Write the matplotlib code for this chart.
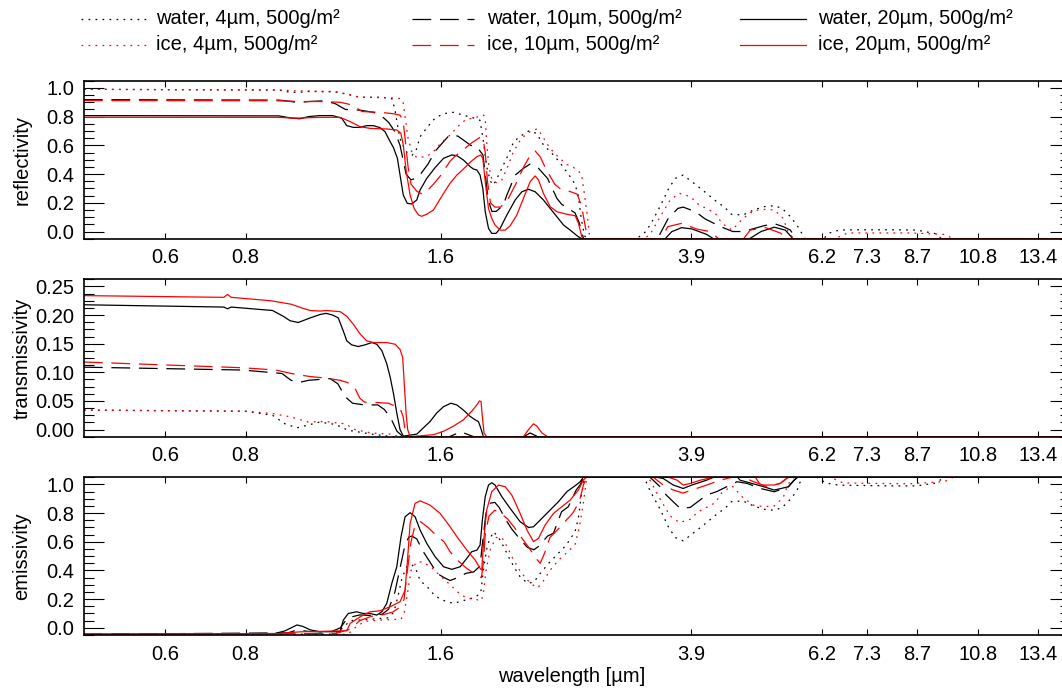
import matplotlib
matplotlib.use("Agg")
import matplotlib.pyplot as plt
from matplotlib.lines import Line2D
from matplotlib.ticker import FixedLocator, NullLocator, MultipleLocator, FormatStrFormatter

plt.rcParams['font.family'] = ['Liberation Sans', 'DejaVu Sans']

# ---------------- data ----------------
xticks = [0.6, 0.8, 1.6, 3.9, 6.2, 7.3, 8.7, 10.8, 13.4]
xtick_labels = ['0.6', '0.8', '1.6', '3.9', '6.2', '7.3', '8.7', '10.8', '13.4']

legend_labels = ['water, 4µm, 500g/m²', 'water, 10µm, 500g/m²', 'water, 20µm, 500g/m²',
                 'ice, 4µm, 500g/m²', 'ice, 10µm, 500g/m²', 'ice, 20µm, 500g/m²']

# ---- reflectivity ----
wl_R_w4 = [0.45, 0.90, 0.93, 0.96, 1.00, 1.10, 1.15, 1.20, 1.30, 1.345, 1.36, 1.375, 1.39, 1.42, 1.445,
           1.465, 1.4875, 1.528, 1.569, 1.617, 1.675, 1.735, 1.80, 1.84, 1.86, 1.885, 1.91, 1.93, 1.96,
           2.00, 2.04, 2.075, 2.12, 2.187, 2.25, 2.306, 2.39, 2.45, 2.52, 2.58, 2.61, 2.64, 2.67, 2.69,
           3.20, 3.29, 3.37, 3.49, 3.60, 3.686, 3.79, 3.91, 4.12, 4.27, 4.40, 4.50, 4.69, 4.87, 5.05,
           5.24, 5.39, 5.55, 5.68, 5.78, 5.85, 6.25, 6.35, 6.6, 7.0, 8.0, 8.7, 9.3, 9.5, 15.0]
R_w4 = [0.99, 0.985, 0.972, 0.968, 0.975, 0.972, 0.955, 0.935, 0.935, 0.925, 0.85, 0.72, 0.62, 0.55, 0.53,
        0.56, 0.66, 0.73, 0.79, 0.82, 0.83, 0.81, 0.79, 0.775, 0.65, 0.45, 0.35, 0.323, 0.38,
        0.463, 0.544, 0.626, 0.66, 0.70, 0.684, 0.603, 0.533, 0.475, 0.40, 0.33, 0.25, 0.08, -0.03, -0.05,
        -0.05, -0.02, 0.045, 0.172, 0.30, 0.37, 0.393, 0.347, 0.266, 0.208, 0.166, 0.12, 0.115, 0.15, 0.173,
        0.18, 0.161, 0.103, 0.045, -0.013, -0.05, -0.05, -0.013, 0.01, 0.012, 0.012, 0.01, -0.015, -0.05, -0.05]

wl_R_i4 = [0.45, 0.90, 0.95, 1.10, 1.15, 1.20, 1.35, 1.39, 1.40, 1.41, 1.425, 1.445, 1.47, 1.52, 1.56,
           1.60, 1.655, 1.70, 1.75, 1.80, 1.865, 1.875, 1.885, 1.90, 1.92, 1.95, 1.99, 2.03, 2.07, 2.12,
           2.17, 2.22, 2.26, 2.30, 2.36, 2.43, 2.50, 2.58, 2.64, 2.67, 2.70, 2.72, 3.30, 3.37, 3.49, 3.62,
           3.74, 3.887, 4.0, 4.25, 4.35, 4.51, 4.69, 4.87, 5.04, 5.24, 5.41, 5.5, 5.62, 6.5, 6.8, 8.5,
           9.6, 9.9, 15.0]
R_i4 = [0.99, 0.985, 0.98, 0.975, 0.955, 0.935, 0.93, 0.925, 0.90, 0.80, 0.65, 0.55, 0.515, 0.52, 0.556,
        0.615, 0.672, 0.73, 0.78, 0.79, 0.81, 0.78, 0.62, 0.45, 0.36, 0.34, 0.36, 0.45, 0.55, 0.63,
        0.68, 0.705, 0.715, 0.66, 0.58, 0.52, 0.47, 0.44, 0.40, 0.25, 0.08, -0.05, -0.05, -0.02, 0.10, 0.22,
        0.266, 0.243, 0.19, 0.127, 0.057, 0.01, 0.092, 0.145, 0.154, 0.15, 0.092, 0.0, -0.05, -0.05, -0.01, -0.01,
        -0.02, -0.05, -0.05]

wl_R_w10 = [0.45, 0.90, 0.94, 0.965, 1.00, 1.06, 1.10, 1.14, 1.20, 1.26, 1.30, 1.33, 1.36, 1.385, 1.40,
            1.415, 1.44, 1.465, 1.49, 1.53, 1.57, 1.62, 1.65, 1.70, 1.735, 1.78, 1.82, 1.86, 1.875, 1.895,
            1.92, 1.95, 2.0, 2.025, 2.086, 2.148, 2.20, 2.266, 2.34, 2.419, 2.46, 2.52, 2.58, 2.62, 2.66,
            3.46, 3.59, 3.72, 3.79, 3.96, 4.10, 4.33, 4.52, 4.69, 4.87, 5.05, 5.24, 5.41, 5.55, 5.65, 15.0]
R_w10 = [0.918, 0.915, 0.905, 0.897, 0.905, 0.91, 0.89, 0.85, 0.845, 0.83, 0.80, 0.76, 0.695, 0.60, 0.50,
         0.40, 0.36, 0.37, 0.40, 0.47, 0.56, 0.63, 0.67, 0.665, 0.637, 0.60, 0.59, 0.533, 0.40, 0.22,
         0.14, 0.14, 0.185, 0.254, 0.393, 0.44, 0.47, 0.44, 0.37, 0.231, 0.19, 0.16, 0.13, 0.06, -0.05,
         -0.05, 0.087, 0.161, 0.17, 0.138, 0.087, 0.034, 0.0, 0.0, 0.02, 0.04, 0.055, 0.034, 0.01, -0.05, -0.05]

wl_R_i10 = [0.45, 0.90, 0.97, 1.04, 1.12, 1.17, 1.21, 1.29, 1.353, 1.385, 1.40, 1.41, 1.425, 1.44, 1.47,
            1.50, 1.53, 1.56, 1.60, 1.655, 1.68, 1.735, 1.79, 1.84, 1.86, 1.875, 1.89, 1.91, 1.94, 1.98,
            2.03, 2.09, 2.15, 2.20, 2.24, 2.28, 2.33, 2.40, 2.46, 2.53, 2.60, 2.64, 2.68, 2.70, 3.50, 3.59,
            3.77, 3.98, 4.17, 4.30, 4.70, 4.81, 5.08, 5.35, 5.50, 15.0]
R_i10 = [0.912, 0.91, 0.905, 0.905, 0.90, 0.88, 0.835, 0.83, 0.82, 0.81, 0.77, 0.65, 0.45, 0.33, 0.28,
         0.26, 0.29, 0.33, 0.39, 0.49, 0.52, 0.57, 0.62, 0.655, 0.65, 0.55, 0.35, 0.20, 0.17, 0.17,
         0.22, 0.33, 0.45, 0.53, 0.56, 0.52, 0.43, 0.33, 0.29, 0.28, 0.26, 0.18, 0.02, -0.05, -0.05, 0.034,
         0.057, 0.017, 0.0, -0.05, -0.05, 0.01, 0.027, -0.01, -0.05, -0.05]

wl_R_w20 = [0.45, 0.90, 0.94, 0.97, 1.00, 1.04, 1.09, 1.126, 1.146, 1.173, 1.20, 1.23, 1.26, 1.29, 1.313,
            1.337, 1.353, 1.372, 1.385, 1.401, 1.421, 1.444, 1.47, 1.4875, 1.523, 1.569, 1.617, 1.665,
            1.695, 1.735, 1.777, 1.798, 1.82, 1.841, 1.859, 1.875, 1.897, 1.919, 1.949, 1.977, 2.025,
            2.086, 2.136, 2.187, 2.239, 2.306, 2.362, 2.419, 2.477, 2.536, 2.60, 2.64, 3.556, 3.64, 3.77,
            3.91, 4.12, 4.22, 4.80, 5.00, 5.24, 5.45, 5.60, 15.0]
R_w20 = [0.807, 0.805, 0.79, 0.785, 0.80, 0.807, 0.807, 0.788, 0.737, 0.725, 0.725, 0.737, 0.737, 0.723, 0.695,
         0.626, 0.584, 0.51, 0.393, 0.254, 0.196, 0.192, 0.22, 0.289, 0.37, 0.445, 0.51, 0.533,
         0.528, 0.498, 0.452, 0.435, 0.428, 0.393, 0.30, 0.138, 0.022, -0.013, -0.013, 0.022, 0.115,
         0.22, 0.277, 0.294, 0.277, 0.22, 0.161, 0.103, 0.045, 0.01, -0.03, -0.05, -0.05, -0.001, 0.027,
         0.018, -0.02, -0.05, -0.05, 0.0, 0.03, 0.01, -0.05, -0.05]

wl_R_i20 = [0.45, 0.90, 0.94, 0.97, 1.042, 1.119, 1.16, 1.2015, 1.245, 1.321, 1.369, 1.389, 1.401, 1.416,
            1.4355, 1.456, 1.479, 1.496, 1.523, 1.56, 1.588, 1.617, 1.655, 1.695, 1.735, 1.777, 1.82,
            1.845, 1.859, 1.875, 1.897, 1.919, 1.942, 1.977, 2.013, 2.049, 2.098, 2.148, 2.20, 2.239,
            2.266, 2.306, 2.362, 2.419, 2.507, 2.582, 2.612, 2.643, 2.66, 15.0]
R_i20 = [0.795, 0.795, 0.79, 0.79, 0.795, 0.795, 0.765, 0.73, 0.718, 0.714, 0.707, 0.684, 0.603, 0.416,
         0.254, 0.161, 0.115, 0.106, 0.12, 0.15, 0.208, 0.266, 0.336, 0.393, 0.435, 0.482, 0.521,
         0.533, 0.51, 0.347, 0.161, 0.091, 0.045, 0.01, 0.01, 0.04, 0.115, 0.231, 0.347, 0.387,
         0.359, 0.266, 0.173, 0.138, 0.12, 0.11, 0.057, -0.036, -0.05, -0.05]

# ---- transmissivity ----
wl_T_w4 = [0.45, 0.80, 0.88, 0.92, 0.96, 1.00, 1.04, 1.10, 1.15, 1.25, 1.35, 15.0]
T_w4 = [0.034, 0.032, 0.025, 0.01, 0.003, 0.008, 0.013, 0.009, -0.001, -0.008, -0.0125, -0.0125]

wl_T_i4 = [0.45, 0.80, 0.88, 0.94, 1.00, 1.06, 1.14, 1.18, 1.25, 1.34, 1.38, 15.0]
T_i4 = [0.034, 0.032, 0.028, 0.022, 0.013, 0.014, 0.010, 0.0, -0.006, -0.008, -0.0125, -0.0125]

wl_T_w10 = [0.45, 0.79, 0.91, 0.94, 0.965, 1.00, 1.08, 1.11, 1.14, 1.17, 1.22, 1.28, 1.31, 1.34, 1.37,
            1.40, 1.65, 1.72, 1.80, 15.0]
T_w10 = [0.109, 0.104, 0.098, 0.086, 0.082, 0.086, 0.089, 0.08, 0.057, 0.046, 0.043, 0.043, 0.035, 0.02,
         -0.003, -0.0125, -0.0125, -0.004, -0.0125, -0.0125]

wl_T_i10 = [0.45, 0.79, 0.89, 0.94, 1.00, 1.06, 1.12, 1.15, 1.18, 1.20, 1.22, 1.28, 1.33, 1.385, 1.40,
            1.415, 15.0]
T_i10 = [0.118, 0.108, 0.104, 0.098, 0.093, 0.090, 0.086, 0.082, 0.072, 0.055, 0.048, 0.047, 0.046, 0.037,
         0.023, -0.0125, -0.0125]

wl_T_w20 = [0.45, 0.74, 0.75, 0.76, 0.88, 0.914, 0.937, 0.964, 1.006, 1.042, 1.065, 1.09, 1.112, 1.132,
            1.146, 1.166, 1.194, 1.223, 1.253, 1.275, 1.298, 1.321, 1.337, 1.353, 1.369, 1.385, 1.401,
            1.47, 1.505, 1.541, 1.578, 1.617, 1.66, 1.695, 1.735, 1.777, 1.809, 1.83, 1.845, 1.863,
            2.15, 2.20, 2.26, 15.0]
T_w20 = [0.218, 0.214, 0.211, 0.214, 0.208, 0.198, 0.19, 0.187, 0.195, 0.201, 0.203, 0.20, 0.195, 0.172,
         0.155, 0.148, 0.145, 0.148, 0.152, 0.149, 0.138, 0.115, 0.092, 0.063, 0.029, 0.0, -0.0115,
         -0.008, 0.003, 0.014, 0.029, 0.040, 0.046, 0.043, 0.034, 0.023, 0.017, 0.014, 0.003, -0.0125,
         -0.0125, -0.006, -0.0125, -0.0125]

wl_T_i20 = [0.45, 0.74, 0.75, 0.76, 0.875, 0.94, 0.98, 1.006, 1.042, 1.065, 1.119, 1.146, 1.173, 1.2015,
            1.23, 1.26, 1.321, 1.361, 1.385, 1.398, 1.405, 1.415, 1.423, 1.4355, 1.56, 1.617, 1.675,
            1.735, 1.787, 1.82, 1.837, 1.847, 1.856, 1.867, 1.885, 2.148, 2.187, 2.226, 2.253, 2.294,
            2.34, 15.0]
T_i20 = [0.234, 0.231, 0.236, 0.231, 0.225, 0.219, 0.212, 0.208, 0.207, 0.208, 0.206, 0.198, 0.184, 0.167,
         0.155, 0.152, 0.152, 0.149, 0.14, 0.126, 0.086, 0.029, 0.0, -0.0125, -0.009, -0.003, 0.006,
         0.017, 0.032, 0.043, 0.05, 0.049, 0.023, -0.006, -0.0125, -0.0125, 0.0, 0.01, 0.006, -0.006,
         -0.0125, -0.0125]

# ---- emissivity ----
wl_E_w4 = [0.45, 1.10, 1.13, 1.16, 1.25, 1.33, 1.355, 1.375, 1.395, 1.42, 1.445, 1.465, 1.4875, 1.53,
           1.57, 1.62, 1.675, 1.735, 1.80, 1.845, 1.865, 1.89, 1.93, 1.96, 2.00, 2.04, 2.08, 2.12, 2.18,
           2.23, 2.28, 2.35, 2.42, 2.48, 2.52, 2.58, 2.61, 2.64, 2.67, 3.30, 3.37, 3.49, 3.60, 3.686,
           3.79, 3.91, 4.12, 4.27, 4.40, 4.50, 4.69, 4.87, 5.05, 5.24, 5.39, 5.55, 5.68, 5.78, 6.1,
           6.3, 6.6, 8.0, 8.7, 9.3, 9.6, 15.0]
E_w4 = [-0.045, -0.045, 0.0, 0.05, 0.06, 0.07, 0.11, 0.22, 0.35, 0.43, 0.44, 0.41, 0.33, 0.28,
        0.22, 0.19, 0.17, 0.19, 0.21, 0.24, 0.42, 0.58, 0.67, 0.64, 0.57, 0.49, 0.42, 0.36, 0.31,
        0.32, 0.38, 0.45, 0.51, 0.56, 0.60, 0.67, 0.76, 0.93, 1.05, 1.05, 0.955, 0.83, 0.70, 0.63,
        0.607, 0.653, 0.734, 0.792, 0.834, 0.88, 0.885, 0.85, 0.827, 0.82, 0.839, 0.897, 0.955, 1.05, 1.05,
        1.01, 0.995, 0.99, 0.99, 1.01, 1.05, 1.05]

wl_E_i4 = [0.45, 1.15, 1.18, 1.22, 1.30, 1.39, 1.405, 1.42, 1.44, 1.47, 1.50, 1.55, 1.60, 1.655, 1.70,
           1.75, 1.80, 1.85, 1.865, 1.88, 1.91, 1.95, 1.99, 2.03, 2.07, 2.12, 2.17, 2.22, 2.26, 2.30,
           2.36, 2.43, 2.50, 2.58, 2.62, 2.66, 2.69, 3.35, 3.49, 3.62, 3.74, 3.887, 4.0, 4.25, 4.35, 4.51,
           4.69, 4.87, 5.04, 5.24, 5.41, 5.5, 5.62, 6.4, 6.7, 8.5, 9.6, 9.9, 15.0]
E_i4 = [-0.045, -0.045, 0.0, 0.045, 0.055, 0.06, 0.1, 0.22, 0.40, 0.46, 0.46, 0.42, 0.36, 0.30, 0.25,
        0.21, 0.20, 0.19, 0.26, 0.40, 0.55, 0.63, 0.63, 0.56, 0.48, 0.40, 0.34, 0.30, 0.28, 0.32,
        0.40, 0.47, 0.52, 0.58, 0.70, 0.88, 1.05, 1.05, 0.90, 0.78, 0.734, 0.757, 0.81, 0.873, 0.943, 0.99,
        0.908, 0.855, 0.846, 0.85, 0.908, 1.0, 1.05, 1.05, 1.01, 1.005, 1.02, 1.05, 1.05]

wl_E_w10 = [0.45, 0.93, 0.96, 1.00, 1.08, 1.12, 1.15, 1.20, 1.26, 1.30, 1.33, 1.36, 1.39, 1.41, 1.43,
            1.445, 1.47, 1.50, 1.54, 1.58, 1.62, 1.655, 1.70, 1.75, 1.80, 1.84, 1.86, 1.88, 1.91, 1.94,
            1.97, 2.02, 2.06, 2.12, 2.18, 2.23, 2.27, 2.34, 2.39, 2.46, 2.52, 2.59, 2.63, 2.66, 3.37,
            3.49, 3.57, 3.75, 3.887, 4.12, 4.27, 4.48, 4.59, 4.76, 4.99, 5.24, 5.51, 5.62, 5.70, 15.0]
E_w10 = [-0.045, -0.035, -0.015, -0.025, -0.03, 0.0, 0.07, 0.09, 0.085, 0.095, 0.13, 0.25, 0.45, 0.58, 0.635,
         0.64, 0.62, 0.54, 0.46, 0.38, 0.35, 0.33, 0.35, 0.38, 0.39, 0.43, 0.62, 0.80, 0.87, 0.875,
         0.84, 0.75, 0.69, 0.62, 0.56, 0.545, 0.57, 0.64, 0.66, 0.81, 0.845, 0.96, 1.0, 1.05, 1.05,
         0.985, 0.926, 0.833, 0.84, 0.926, 0.95, 0.996, 1.019, 1.007, 0.972, 0.949, 0.984, 1.03, 1.05, 1.05]

wl_E_i10 = [0.45, 1.10, 1.16, 1.20, 1.25, 1.30, 1.35, 1.39, 1.405, 1.42, 1.44, 1.46, 1.49, 1.53, 1.58,
            1.62, 1.655, 1.70, 1.75, 1.80, 1.85, 1.862, 1.875, 1.90, 1.94, 1.98, 2.03, 2.08, 2.14, 2.19,
            2.24, 2.28, 2.32, 2.36, 2.42, 2.50, 2.56, 2.62, 2.66, 2.69, 3.41, 3.53, 3.66, 3.79, 3.91, 4.12,
            4.33, 4.50, 4.70, 4.87, 5.11, 5.35, 5.50, 15.0]
E_i10 = [-0.045, -0.04, -0.01, 0.05, 0.08, 0.09, 0.11, 0.15, 0.2, 0.38, 0.60, 0.71, 0.74, 0.70, 0.64,
         0.60, 0.53, 0.47, 0.42, 0.38, 0.35, 0.45, 0.65, 0.78, 0.82, 0.80, 0.76, 0.70, 0.62, 0.56,
         0.49, 0.45, 0.53, 0.63, 0.68, 0.75, 0.80, 0.88, 1.0, 1.05, 1.05, 0.996, 0.961, 0.94, 0.961, 0.996,
         1.03, 1.05, 1.05, 1.019, 0.984, 1.007, 1.05, 1.05]

wl_E_w20 = [0.45, 0.85, 0.887, 0.92, 0.96, 0.98, 1.006, 1.04, 1.119, 1.132, 1.152, 1.187, 1.215, 1.245,
            1.275, 1.298, 1.321, 1.345, 1.369, 1.39, 1.41, 1.4355, 1.461, 1.4875, 1.523, 1.569, 1.617,
            1.665, 1.715, 1.756, 1.787, 1.82, 1.841, 1.856, 1.875, 1.897, 1.919, 1.942, 1.989, 2.049,
            2.123, 2.187, 2.226, 2.28, 2.362, 2.433, 2.507, 2.59, 2.628, 2.657, 3.45, 3.53, 3.66, 3.79,
            3.91, 4.12, 4.22, 4.60, 4.64, 5.05, 5.24, 5.51, 5.68, 15.0]
E_w20 = [-0.045, -0.04, -0.04, -0.021, 0.02, 0.01, -0.014, -0.027, -0.027, 0.054, 0.10, 0.112, 0.10, 0.10,
         0.089, 0.112, 0.17, 0.31, 0.426, 0.636, 0.775, 0.803, 0.775, 0.682, 0.589, 0.496, 0.426,
         0.408, 0.426, 0.484, 0.531, 0.542, 0.577, 0.752, 0.915, 0.996, 1.012, 0.996, 0.915, 0.833,
         0.74, 0.70, 0.705, 0.752, 0.822, 0.88, 0.95, 0.996, 1.019, 1.05, 1.05, 1.042, 0.996, 0.972,
         0.996, 1.03, 1.05, 1.05, 1.03, 0.984, 0.961, 0.984, 1.05, 1.05]

wl_E_i20 = [0.45, 0.90, 0.97, 1.06, 1.146, 1.16, 1.2015, 1.245, 1.29, 1.337, 1.385, 1.41, 1.421, 1.4355,
            1.461, 1.4875, 1.541, 1.597, 1.655, 1.695, 1.756, 1.809, 1.841, 1.852, 1.863, 1.885, 1.919,
            1.965, 2.013, 2.061, 2.123, 2.175, 2.226, 2.266, 2.32, 2.39, 2.462, 2.536, 2.612, 2.657,
            2.687, 3.60, 3.71, 3.79, 3.887, 4.03, 4.22, 4.90, 4.99, 5.24, 5.35, 5.51, 15.0]
E_i20 = [-0.045, -0.04, -0.028, -0.024, -0.02, 0.031, 0.077, 0.112, 0.119, 0.147, 0.182, 0.263, 0.449, 0.728,
         0.868, 0.886, 0.856, 0.798, 0.705, 0.636, 0.543, 0.473, 0.415, 0.403, 0.589, 0.822, 0.95,
         0.996, 0.984, 0.926, 0.798, 0.682, 0.601, 0.624, 0.717, 0.798, 0.845, 0.891, 0.961, 1.03,
         1.05, 1.05, 1.03, 0.996, 1.007, 1.03, 1.05, 1.05, 0.996, 0.996, 1.007, 1.05, 1.05]

# ---------------- styling ----------------
DOT = (0, (1.4, 4.2))
DASH = (0, (15, 7))
styles = [('black', DOT), ('black', DASH), ('black', '-'),
          ('red', DOT), ('red', DASH), ('red', '-')]
LW = 0.9
FS = 14.5

panels = [
    ('reflectivity', [(wl_R_w4, R_w4), (wl_R_w10, R_w10), (wl_R_w20, R_w20),
                      (wl_R_i4, R_i4), (wl_R_i10, R_i10), (wl_R_i20, R_i20)],
     (-0.05, 1.05), 0.2, 0.05, '%.1f', (80.7, 238.7)),
    ('transmissivity', [(wl_T_w4, T_w4), (wl_T_w10, T_w10), (wl_T_w20, T_w20),
                        (wl_T_i4, T_i4), (wl_T_i10, T_i10), (wl_T_i20, T_i20)],
     (-0.0125, 0.2625), 0.05, 0.0125, '%.2f', (279.3, 436.7)),
    ('emissivity', [(wl_E_w4, E_w4), (wl_E_w10, E_w10), (wl_E_w20, E_w20),
                    (wl_E_i4, E_i4), (wl_E_i10, E_i10), (wl_E_i20, E_i20)],
     (-0.05, 1.05), 0.2, 0.05, '%.1f', (477.3, 635.0)),
]

W, H = 1062.0, 690.0
LEFT_PX, RIGHT_PX = 83.9, 1070.0

fig = plt.figure(figsize=(W / 100, H / 100), dpi=100)

axes = []
for name, series, ylim, major, minor, fmt, (top, bot) in panels:
    ax = fig.add_axes([LEFT_PX / W, 1 - bot / H, (RIGHT_PX - LEFT_PX) / W, (bot - top) / H])
    for (wl, vals), (col, ls) in zip(series, styles):
        ax.plot(wl, vals, color=col, linestyle=ls, linewidth=LW)
    ax.set_xscale('log')
    ax.set_xlim(0.45, 15.0)
    ax.set_ylim(*ylim)
    ax.xaxis.set_major_locator(FixedLocator(xticks))
    ax.xaxis.set_minor_locator(NullLocator())
    ax.set_xticklabels(xtick_labels)
    ax.yaxis.set_major_locator(MultipleLocator(major))
    ax.yaxis.set_minor_locator(MultipleLocator(minor))
    ax.yaxis.set_major_formatter(FormatStrFormatter(fmt))
    ax.tick_params(axis='x', which='major', direction='in', top=True, bottom=True,
                   length=4, width=0.8, labelsize=FS, pad=7)
    ax.tick_params(axis='y', which='major', direction='in', left=True, right=True,
                   length=14.5, width=0.8, labelsize=FS, pad=7)
    ax.tick_params(axis='y', which='minor', direction='in', left=True, right=True,
                   length=7, width=0.8)
    for sp in ax.spines.values():
        sp.set_linewidth(1.2)
    ax.set_ylabel(name, fontsize=FS)
    ax.yaxis.set_label_coords((22 - LEFT_PX) / (RIGHT_PX - LEFT_PX), 0.5)
    ax.yaxis.label.set_va('center')
    axes.append(ax)

axes[-1].set_xlabel('wavelength [µm]', fontsize=FS)
axes[-1].xaxis.set_label_coords((572 - LEFT_PX) / (RIGHT_PX - LEFT_PX), -(677 - 635.0) / (635.0 - 477.3))
axes[-1].xaxis.label.set_va('center')

# ---------------- legend (3 columns x 2 rows) ----------------
row_y = [19, 45]
col_line = [(81, 146), (412, 474), (740, 806)]
col_text = [156, 487, 818]
for i, (lab, (col, ls)) in enumerate(zip(legend_labels, styles)):
    r, c = divmod(i, 3)
    y = 1 - row_y[r] / H
    x0, x1 = col_line[c]
    fig.add_artist(Line2D([x0 / W, x1 / W], [y, y], transform=fig.transFigure,
                          color=col, linestyle=ls, linewidth=LW))
    fig.text(col_text[c] / W, y, lab, fontsize=FS, ha='left', va='center')

fig.savefig('out.png', dpi=100)
